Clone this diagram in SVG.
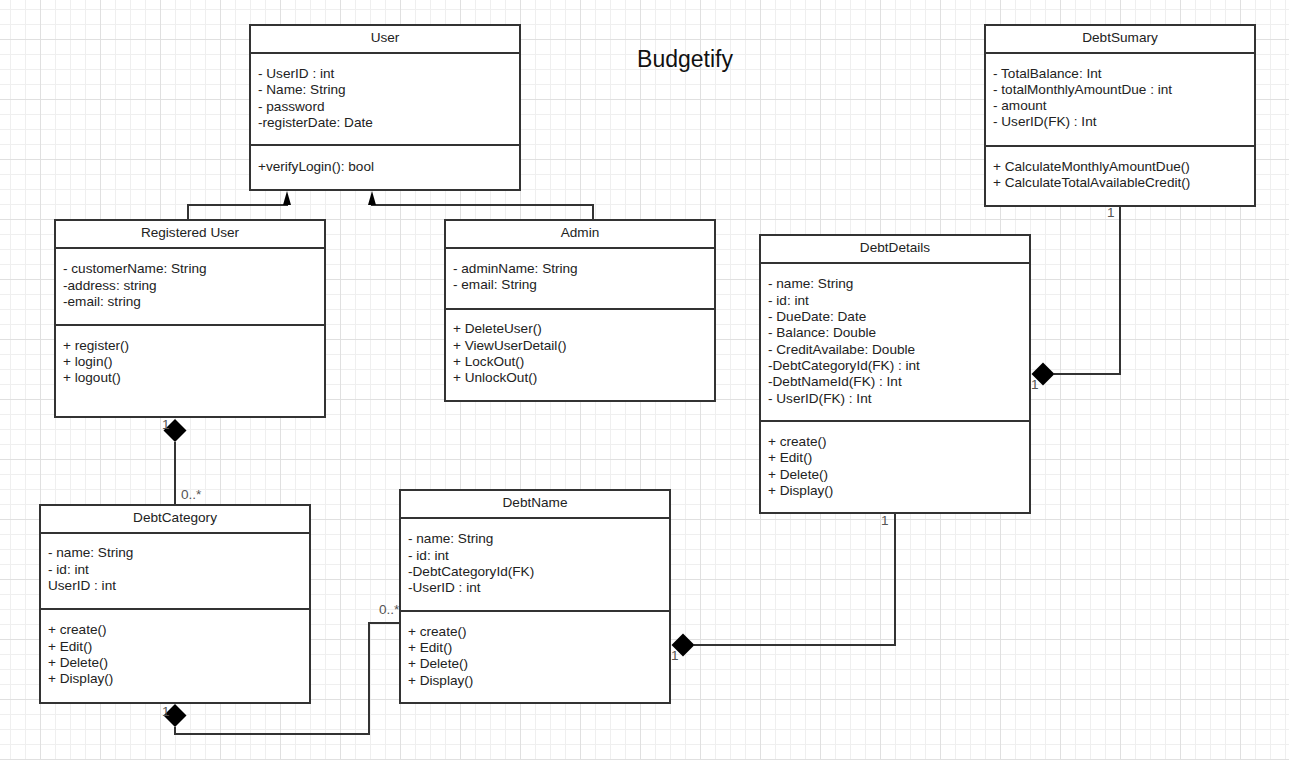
<svg xmlns="http://www.w3.org/2000/svg" width="1289" height="760" viewBox="0 0 1289 760">
<style>
.box{fill:#fff;stroke:#333;stroke-width:2}
.div{stroke:#333;stroke-width:2}
.t{font-family:"Liberation Sans",Arial,sans-serif;font-size:13.6px;fill:#222}
.h{text-anchor:middle}
.m{font-family:"Liberation Sans",Arial,sans-serif;font-size:13.6px;fill:#555}
.ln{fill:none;stroke:#333;stroke-width:2}
.dm{fill:#000}
.ar{fill:#000}
.title{font-family:"Liberation Sans",Arial,sans-serif;font-size:23px;fill:#111;text-anchor:middle}
</style>
<defs>
<pattern id="grid" patternUnits="userSpaceOnUse" x="40" y="39" width="60" height="60">
<path d="M15.5 0V60M30.5 0V60M45.5 0V60M0 15.5H60M0 30.5H60M0 45.5H60" stroke="#efefef" stroke-width="1" fill="none"/>
<path d="M0.5 0V60M0 0.5H60" stroke="#e0e0e0" stroke-width="1" fill="none"/>
</pattern>
<polygon id="diamond" points="0,-11.5 11.5,0 0,11.5 -11.5,0"/>
<polygon id="tri" points="0,0 4,14 -4,14"/>
</defs>
<rect width="1289" height="760" fill="#fff"/>
<rect width="1289" height="760" fill="url(#grid)"/>

<text class="title" x="685" y="67">Budgetify</text>

<g id="connectors">
<path class="ln" d="M188,220 V205 H287 V200"/>
<use href="#tri" class="ar" x="287" y="191"/>
<path class="ln" d="M593,220 V205 H372 V200"/>
<use href="#tri" class="ar" x="372" y="191"/>
<path class="ln" d="M175,442 V505"/>
<use href="#diamond" class="dm" x="175" y="430.5"/>
<text class="m" x="162" y="429">1</text>
<text class="m" x="181" y="499">0..*</text>
<path class="ln" d="M175,727 V734 H369 V623 H400"/>
<use href="#diamond" class="dm" x="175" y="715.5"/>
<text class="m" x="162" y="716">1</text>
<text class="m" x="379" y="614">0..*</text>
<path class="ln" d="M694,645 H895 V513"/>
<use href="#diamond" class="dm" x="683" y="645"/>
<text class="m" x="671" y="660">1</text>
<text class="m" x="881" y="525">1</text>
<path class="ln" d="M1054,374 H1120 V206"/>
<use href="#diamond" class="dm" x="1043" y="374"/>
<text class="m" x="1031" y="389">1</text>
<text class="m" x="1107" y="217">1</text>
</g>

<g id="User">
<rect class="box" x="250" y="25" width="270" height="165"/>
<line class="div" x1="250" y1="53" x2="520" y2="53"/>
<line class="div" x1="250" y1="145" x2="520" y2="145"/>
<text class="t h" x="385" y="42">User</text>
<text class="t" x="258" y="78">- UserID : int</text>
<text class="t" x="258" y="94.3">- Name: String</text>
<text class="t" x="258" y="110.6">- password</text>
<text class="t" x="258" y="127">-registerDate: Date</text>
<text class="t" x="258" y="171">+verifyLogin(): bool</text>
</g>

<g id="RegisteredUser">
<rect class="box" x="55" y="220" width="270" height="197"/>
<line class="div" x1="55" y1="248" x2="325" y2="248"/>
<line class="div" x1="55" y1="325" x2="325" y2="325"/>
<text class="t h" x="190" y="237">Registered User</text>
<text class="t" x="63" y="273">- customerName: String</text>
<text class="t" x="63" y="289.5">-address: string</text>
<text class="t" x="63" y="306">-email: string</text>
<text class="t" x="63" y="350">+ register()</text>
<text class="t" x="63" y="366">+ login()</text>
<text class="t" x="63" y="382">+ logout()</text>
</g>

<g id="Admin">
<rect class="box" x="445" y="220" width="270" height="181"/>
<line class="div" x1="445" y1="248" x2="715" y2="248"/>
<line class="div" x1="445" y1="309" x2="715" y2="309"/>
<text class="t h" x="580" y="237">Admin</text>
<text class="t" x="453" y="273">- adminName: String</text>
<text class="t" x="453" y="289">- email: String</text>
<text class="t" x="453" y="333">+ DeleteUser()</text>
<text class="t" x="453" y="349.5">+ ViewUserDetail()</text>
<text class="t" x="453" y="366">+ LockOut()</text>
<text class="t" x="453" y="382">+ UnlockOut()</text>
</g>

<g id="DebtSumary">
<rect class="box" x="985" y="25" width="270" height="181"/>
<line class="div" x1="985" y1="53" x2="1255" y2="53"/>
<line class="div" x1="985" y1="146" x2="1255" y2="146"/>
<text class="t h" x="1120" y="42">DebtSumary</text>
<text class="t" x="993" y="77.5">- TotalBalance: Int</text>
<text class="t" x="993" y="93.8">- totalMonthlyAmountDue : int</text>
<text class="t" x="993" y="110">- amount</text>
<text class="t" x="993" y="126.3">- UserID(FK) : Int</text>
<text class="t" x="993" y="170.5">+ CalculateMonthlyAmountDue()</text>
<text class="t" x="993" y="186.8">+ CalculateTotalAvailableCredit()</text>
</g>

<g id="DebtDetails">
<rect class="box" x="760" y="235" width="270" height="278"/>
<line class="div" x1="760" y1="263" x2="1030" y2="263"/>
<line class="div" x1="760" y1="421" x2="1030" y2="421"/>
<text class="t h" x="895" y="252">DebtDetails</text>
<text class="t" x="768" y="288.3">- name: String</text>
<text class="t" x="768" y="304.6">- id: int</text>
<text class="t" x="768" y="321">- DueDate: Date</text>
<text class="t" x="768" y="337.3">- Balance: Double</text>
<text class="t" x="768" y="353.6">- CreditAvailabe: Double</text>
<text class="t" x="768" y="370">-DebtCategoryId(FK) : int</text>
<text class="t" x="768" y="386.3">-DebtNameId(FK) : Int</text>
<text class="t" x="768" y="402.6">- UserID(FK) : Int</text>
<text class="t" x="768" y="446">+ create()</text>
<text class="t" x="768" y="462.3">+ Edit()</text>
<text class="t" x="768" y="478.6">+ Delete()</text>
<text class="t" x="768" y="495">+ Display()</text>
</g>

<g id="DebtCategory">
<rect class="box" x="40" y="505" width="270" height="198"/>
<line class="div" x1="40" y1="533" x2="310" y2="533"/>
<line class="div" x1="40" y1="609" x2="310" y2="609"/>
<text class="t h" x="175" y="522">DebtCategory</text>
<text class="t" x="48" y="557.3">- name: String</text>
<text class="t" x="48" y="573.6">- id: int</text>
<text class="t" x="48" y="590">UserID : int</text>
<text class="t" x="48" y="634.3">+ create()</text>
<text class="t" x="48" y="650.6">+ Edit()</text>
<text class="t" x="48" y="667">+ Delete()</text>
<text class="t" x="48" y="683.3">+ Display()</text>
</g>

<g id="DebtName">
<rect class="box" x="400" y="490" width="270" height="213"/>
<line class="div" x1="400" y1="518" x2="670" y2="518"/>
<line class="div" x1="400" y1="611" x2="670" y2="611"/>
<text class="t h" x="535" y="507">DebtName</text>
<text class="t" x="408" y="543.3">- name: String</text>
<text class="t" x="408" y="559.6">- id: int</text>
<text class="t" x="408" y="576">-DebtCategoryId(FK)</text>
<text class="t" x="408" y="592.3">-UserID : int</text>
<text class="t" x="408" y="635.7">+ create()</text>
<text class="t" x="408" y="652">+ Edit()</text>
<text class="t" x="408" y="668.3">+ Delete()</text>
<text class="t" x="408" y="684.6">+ Display()</text>
</g>
</svg>
